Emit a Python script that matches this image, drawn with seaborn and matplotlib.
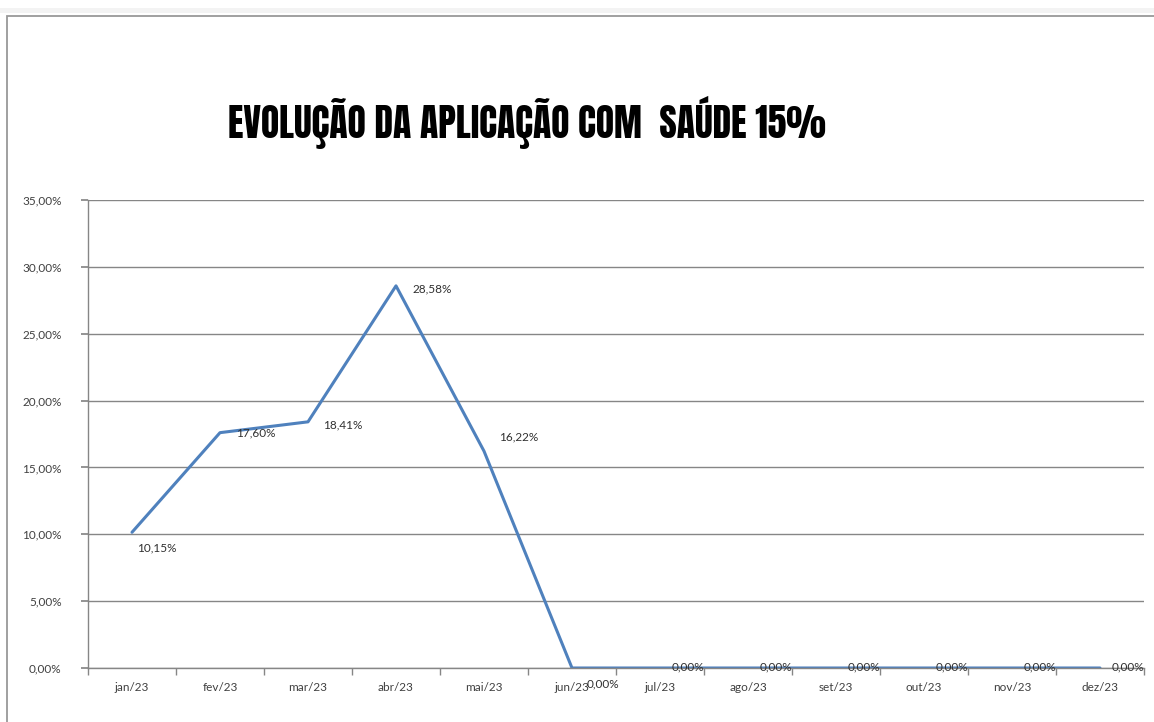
import matplotlib
matplotlib.use("Agg")
import matplotlib.pyplot as plt
from matplotlib.patches import Rectangle
from matplotlib.ticker import FuncFormatter, FixedLocator
import seaborn as sns
import pandas as pd

meses = ["jan/23", "fev/23", "mar/23", "abr/23", "mai/23", "jun/23",
         "jul/23", "ago/23", "set/23", "out/23", "nov/23", "dez/23"]
valores = [10.15, 17.60, 18.41, 28.58, 16.22, 0.00,
           0.00, 0.00, 0.00, 0.00, 0.00, 0.00]
# label offsets in pixels (dx, dy)
offsets = [(25, -16), (36, 0), (35, -3), (36, -3), (35, 14), (31, -16),
           (28, 1), (28, 1), (28, 1), (28, 1), (28, 1), (28, 1)]

sns.set_theme(style="white")
plt.rcParams['font.family'] = ['Lato', 'DejaVu Sans']

df = pd.DataFrame({'pos': range(len(meses)), 'valor': valores})

W, H = 1154, 722
fig = plt.figure(figsize=(W / 100, H / 100), dpi=100)
# faint band above the chart frame
fig.patches.append(Rectangle((0, (H - 13) / H), 1, 5 / H, transform=fig.transFigure,
                             facecolor='#f3f3f3', edgecolor='none'))
fig.patches.append(Rectangle((7 / W, -0.1), 1.2, (H - 16) / H + 0.1, transform=fig.transFigure,
                             fill=False, edgecolor='#999999', linewidth=1.3))
ax = fig.add_axes([88 / W, 54 / H, (1144 - 88) / W, (668 - 200) / H])

sns.lineplot(data=df, x='pos', y='valor', ax=ax, color='#4F81BD', linewidth=2.2)

ax.set_xlim(-0.5, len(meses) - 0.5)
ax.set_ylim(0, 35)
ax.set_yticks(range(0, 36, 5))
ax.yaxis.set_major_formatter(FuncFormatter(lambda v, p: f"{v:.2f}".replace('.', ',') + "%"))
ax.set_xticks(range(len(meses)))
ax.set_xticklabels(meses)
ax.xaxis.set_minor_locator(FixedLocator([i - 0.5 for i in range(len(meses) + 1)]))
ax.tick_params(axis='x', which='major', length=0, pad=10, labelsize=8.5, labelcolor='#404040')
ax.tick_params(axis='x', which='minor', length=5, direction='out', color='#868686', bottom=True)
ax.tick_params(axis='y', length=5, direction='out', color='#868686', left=True,
               labelsize=8.5, labelcolor='#404040', pad=14)
ax.set_xlabel('')
ax.set_ylabel('')

ax.grid(axis='y', color='#868686', linewidth=1)
ax.set_axisbelow(True)
for s in ['top', 'right']:
    ax.spines[s].set_visible(False)
for s in ['left', 'bottom']:
    ax.spines[s].set_color('#868686')
    ax.spines[s].set_linewidth(1)

for i, v in enumerate(valores):
    dx, dy = offsets[i]
    ax.annotate(f"{v:.2f}".replace('.', ',') + "%", (i, v), xytext=(dx, dy),
                textcoords='offset pixels', ha='center', va='center',
                fontsize=8.5, color='#303030')

fig.text(527 / W, 1 - 122 / H, "EVOLUÇÃO DA APLICAÇÃO COM  SAÚDE 15%",
         ha='center', va='center', fontsize=27,
         family=['Anton', 'DejaVu Sans'], color='black')

fig.savefig("out.png", dpi=100, facecolor='white')
